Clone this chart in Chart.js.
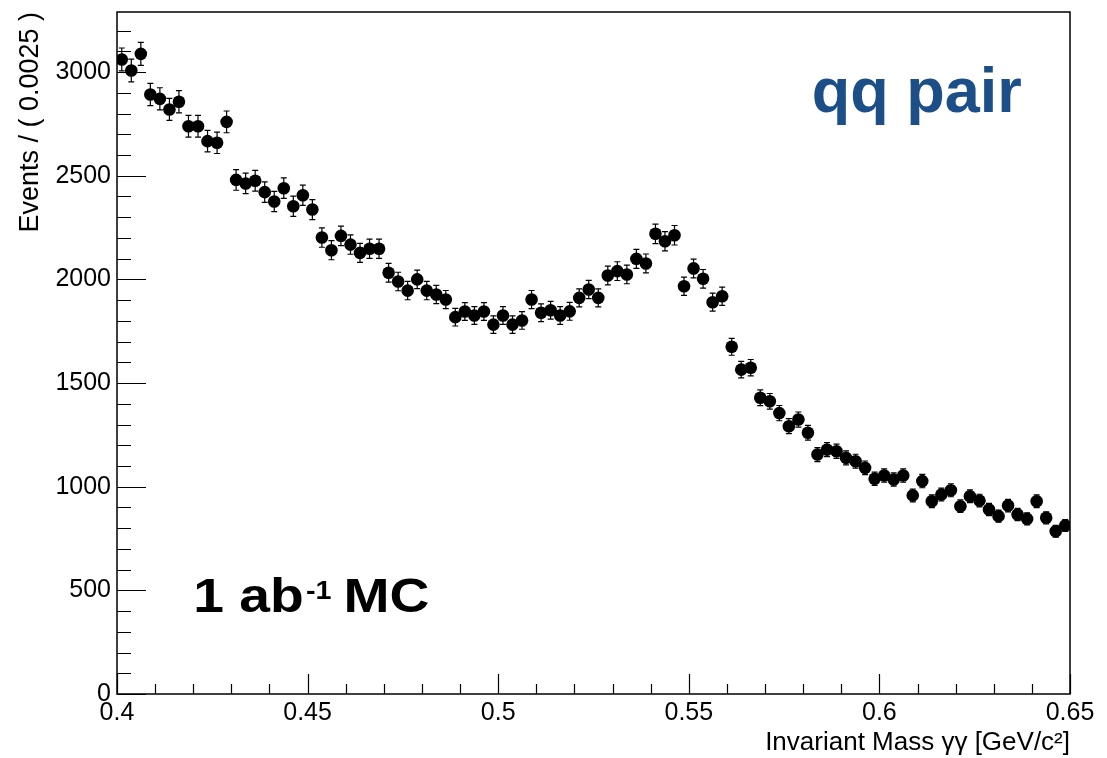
<!DOCTYPE html>
<html>
<head>
<meta charset="utf-8">
<script src="https://cdn.jsdelivr.net/npm/chart.js@4.4.1/dist/chart.umd.min.js"></script>
<style>
  html, body { margin: 0; padding: 0; background: #fff; }
  canvas { display: block; }
</style>
</head>
<body>
<canvas id="massChart" width="1107" height="758"></canvas>
<script>
// histogram binning (GeV/c^2)
const massLow = 0.4;
const massHigh = 0.65;
const binWidth = 0.0025;

// events per bin, 100 bins from 0.4 to 0.65
const eventCounts = [
  3061, 3008, 3088, 2892, 2871, 2820, 2857, 2739, 2739, 2667,
  2659, 2760, 2480, 2463, 2476, 2421, 2376, 2440, 2353, 2406,
  2337, 2202, 2141, 2210, 2168, 2128, 2148, 2148, 2032, 1990,
  1946, 2000, 1946, 1927, 1903, 1818, 1845, 1826, 1845, 1782,
  1826, 1782, 1802, 1903, 1839, 1851, 1826, 1846, 1911, 1951,
  1911, 2019, 2040, 2024, 2099, 2077, 2220, 2184, 2213, 1967,
  2053, 2003, 1890, 1919, 1675, 1565, 1574, 1429, 1412, 1355,
  1292, 1324, 1260, 1155, 1179, 1171, 1139, 1123, 1091, 1038,
  1054, 1035, 1054, 958, 1027, 930, 962, 983, 906, 954,
  933, 890, 858, 909, 866, 845, 930, 850, 785, 813
];

const xTickLabels = [0.4, 0.45, 0.5, 0.55, 0.6, 0.65];
const yTickLabels = [0, 500, 1000, 1500, 2000, 2500, 3000];
const yMax = 3290;

const points = eventCounts.map((n, i) => ({ x: massLow + (i + 0.5) * binWidth, y: n }));

const FONT = 'Liberation Sans, Arial, Helvetica, sans-serif';

// poisson error bars with small caps, drawn under the markers
const errorBars = {
    id: 'errorBars',
    beforeDatasetsDraw(chart) {
        const { ctx, scales: { x, y } } = chart;
        ctx.save();
        ctx.strokeStyle = '#000';
        ctx.lineWidth = 1.2;
        chart.data.datasets[0].data.forEach(p => {
            const err = Math.sqrt(p.y);
            const px = x.getPixelForValue(p.x);
            const top = y.getPixelForValue(p.y + err);
            const bot = y.getPixelForValue(p.y - err);
            ctx.beginPath();
            ctx.moveTo(px, top); ctx.lineTo(px, bot);
            ctx.moveTo(px - 3, top); ctx.lineTo(px + 3, top);
            ctx.moveTo(px - 3, bot); ctx.lineTo(px + 3, bot);
            ctx.stroke();
        });
        ctx.restore();
    }
};

// frame box and inward ticks (major + minor)
const frameTicks = {
    id: 'frameTicks',
    afterDraw(chart) {
        const { ctx, chartArea: a, scales: { x, y } } = chart;
        ctx.save();
        ctx.strokeStyle = '#000';
        ctx.lineWidth = 1.2;
        ctx.beginPath();
        for (let k = 40; k <= 65; k++) {
            const px = Math.round(x.getPixelForValue(k / 100)) + 0.5;
            const len = k % 5 === 0 ? 20 : 10;
            ctx.moveTo(px, a.bottom);
            ctx.lineTo(px, a.bottom - len);
        }
        for (let k = 0; k * 100 <= yMax; k++) {
            const py = Math.round(y.getPixelForValue(k * 100)) + 0.5;
            const len = k % 5 === 0 ? 29 : 14;
            ctx.moveTo(a.left, py);
            ctx.lineTo(a.left + len, py);
        }
        ctx.stroke();
        ctx.lineWidth = 1.5;
        ctx.strokeRect(a.left, a.top, a.right - a.left, a.bottom - a.top);
        ctx.restore();
    }
};

// sample labels inside the frame
const annotations = {
    id: 'annotations',
    afterDraw(chart) {
        const { ctx, chartArea: a } = chart;
        const w = a.right - a.left;
        const h = a.bottom - a.top;
        ctx.save();
        ctx.textBaseline = 'alphabetic';
        ctx.fillStyle = '#1c4f87';
        ctx.font = 'bold 63px ' + FONT;
        ctx.fillText('qq pair', a.left + 0.729 * w, a.top + 0.146 * h);

        ctx.fillStyle = '#000';
        ctx.translate(a.left + 0.08 * w, a.top + 0.88 * h);
        ctx.scale(1.15, 1);
        ctx.font = 'bold 48px ' + FONT;
        ctx.fillText('1 ab', 0, 0);
        let off = ctx.measureText('1 ab').width + 2;
        ctx.font = 'bold 25px ' + FONT;
        ctx.fillText('-1', off, -13);
        off += ctx.measureText('-1').width - 3;
        ctx.font = 'bold 48px ' + FONT;
        ctx.fillText(' MC', off, 0);
        ctx.restore();
    }
};

new Chart(document.getElementById('massChart'), {
    type: 'scatter',
    data: {
        datasets: [{
            data: points,
            pointRadius: 6.3,
            pointHoverRadius: 6.3,
            backgroundColor: '#000',
            borderWidth: 0
        }]
    },
    options: {
        responsive: false,
        animation: false,
        events: [],
        layout: { padding: { top: 12, right: 37, left: 0, bottom: 0 } },
        plugins: {
            legend: { display: false },
            tooltip: { enabled: false }
        },
        scales: {
            x: {
                type: 'linear',
                min: massLow,
                max: massHigh,
                afterBuildTicks: s => { s.ticks = xTickLabels.map(v => ({ value: v })); },
                afterFit: s => { s.height = 64; s.paddingLeft = 0; s.paddingRight = 0; },
                grid: { display: false, drawTicks: false },
                border: { display: false },
                ticks: {
                    color: '#000',
                    font: { family: FONT, size: 25 },
                    padding: 4,
                    maxRotation: 0,
                    autoSkip: false,
                    callback: v => String(+v.toFixed(2))
                },
                title: {
                    display: true,
                    text: 'Invariant Mass γγ [GeV/c²]',
                    align: 'end',
                    color: '#000',
                    font: { family: FONT, size: 26 },
                    padding: 0
                }
            },
            y: {
                min: 0,
                max: yMax,
                afterBuildTicks: s => { s.ticks = yTickLabels.map(v => ({ value: v })); },
                afterFit: s => { s.width = 117; s.paddingTop = 0; s.paddingBottom = 0; },
                grid: { display: false, drawTicks: false },
                border: { display: false },
                ticks: {
                    color: '#000',
                    font: { family: FONT, size: 25 },
                    padding: 6,
                    callback: v => String(v)
                },
                title: {
                    display: true,
                    text: 'Events / ( 0.0025 )',
                    align: 'end',
                    color: '#000',
                    font: { family: FONT, size: 27 },
                    padding: { top: 14, bottom: 0 }
                }
            }
        }
    },
    plugins: [errorBars, frameTicks, annotations]
});
</script>
</body>
</html>
